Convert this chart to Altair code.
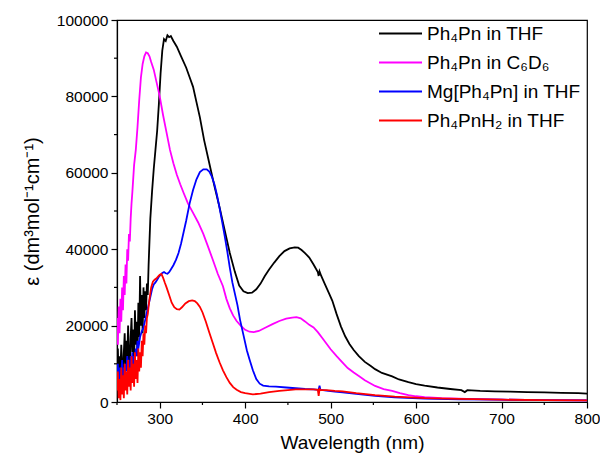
import altair as alt
import pandas as pd

FONT = "Liberation Sans, Arial, Helvetica, sans-serif"

series_names = [
    "Ph\u2084Pn in THF",
    "Ph\u2084Pn in C\u2086D\u2086",
    "Mg[Ph\u2084Pn] in THF",
    "Ph\u2084PnH\u2082 in THF",
]
series_colors = ["#000000", "#ff00ff", "#0000ff", "#ff0000"]

# wavelengths (nm) and epsilon (in units of 1000 dm3 mol-1 cm-1)
black_wl = list(range(250, 288)) + [
    289, 291, 293, 295, 297, 299, 301, 303, 305, 307, 309, 311, 313, 316, 320,
    325, 331, 335, 339, 343, 347, 352, 358, 364, 370, 376, 382, 388, 393, 398,
    403, 408, 413, 418, 423, 428, 434, 440, 446, 452, 458, 462, 466, 470, 475,
    480, 485, 486, 487, 489, 493, 498, 502, 507, 512, 517, 522, 527, 533, 540,
    547, 552, 560, 572, 580, 591, 600, 610, 625, 640, 653, 657, 660, 675, 692,
    710, 730, 750, 770, 790, 800]
black_eps = [
    9, 14, 6, 12, 8, 15, 10, 5, 13, 18, 9, 16, 11, 20, 12, 8, 17, 22, 13, 19,
    10, 24, 15, 21, 12, 26, 17, 33, 20, 28, 18, 30, 22, 29, 24, 31, 28, 36,
    48, 55, 61, 66, 71, 78, 86, 92, 95, 94.5, 96, 95.5, 95.8, 94.5, 93,
    90.5, 87.5, 85, 82.5, 78.5, 74.5, 68.5, 62.5, 56.5, 51, 45, 39, 34, 30.5, 29,
    28.5, 28.6, 29.5, 31, 33, 34.7, 36.5, 38.2, 39.5, 40.2, 40.5, 40.4, 39.8, 39, 37.8,
    36, 34, 33, 34.2, 33, 31, 28.5, 26.5, 23, 19.8, 17.2, 15.2, 13.6, 12, 10.5,
    9.4, 8.6, 7.6, 6.7, 5.9, 5.2, 4.7, 4.3, 3.8, 3.4, 3.1, 2.6, 3.1, 2.9, 2.8,
    2.7, 2.6, 2.5, 2.4, 2.3, 2.2]

magenta_wl = list(range(250, 268)) + [
    268, 270, 272, 274, 276, 278, 280, 282, 284, 286, 288, 290, 293, 296, 300,
    304, 308, 312, 316, 320, 324, 328, 333, 339, 345, 351, 356, 362, 368, 374,
    378, 382, 386, 390, 395, 400, 405, 410, 416, 424, 432, 440, 448, 455, 460,
    465, 470, 475, 480, 485, 490, 495, 500, 507, 514, 520, 527, 533, 540, 552,
    562, 572, 581, 591, 600, 610, 630, 660, 700, 750, 800]
magenta_eps = [
    22, 15, 25, 18, 27, 21, 30, 24, 33, 28, 36, 31, 40, 37, 44, 42, 48, 52,
    55, 62, 66, 72, 79, 85, 88.5, 90.5, 91.5, 91.3, 90.5, 89, 87, 84, 80,
    75, 70.5, 66, 62.5, 59.5, 57, 54.7, 52, 49.5, 47, 44, 41, 37.3, 33.5, 30.3,
    27, 24.5, 22.6, 21.2, 19.9, 18.9, 18.4, 18.3, 18.6, 19.5, 20.4, 21.2, 21.8, 22.1, 22.2,
    21.9, 21.1, 20.2, 19.5, 18.3, 16.8, 15.3, 13.8, 12, 10.3, 8.9, 7.7, 6.8, 5.7, 4.2,
    3.4, 2.9, 2.3, 1.8, 1.5, 1.3, 1.0, 0.8, 0.6, 0.5, 0.4]

blue_wl = list(range(250, 276)) + [
    277, 279, 281, 283, 285, 287, 289, 291, 293, 295, 297, 299, 301, 303, 305,
    307, 309, 311, 313, 316, 319, 322, 325, 328, 331, 335, 339, 343, 347, 351,
    355, 358, 361, 364, 367, 370, 373, 376, 379, 382, 385, 388, 391, 394, 398,
    402, 405, 409, 413, 417, 421, 428, 436, 448, 459, 470, 480, 486, 487, 488,
    495, 505, 514, 530, 552, 575, 610, 650, 700, 750, 800]
blue_eps = [
    7, 10, 5, 9, 4, 8, 11, 6, 9, 7, 10, 8, 12, 9, 11, 8, 12, 10, 13, 9, 12, 11,
    14, 12, 16, 14,
    17, 18.5, 19.5, 21.5, 23.5, 25.5, 27.5, 29.5, 30.8, 31.3, 32, 32.8, 33.3, 33.8, 34,
    33.7, 33.6, 34, 34.7, 35.8, 37.2, 39, 41.5, 44.5, 47.5, 52, 55.5, 58.3, 60.2, 60.9,
    60.9, 60.3, 59, 57, 54.2, 50.8, 47.2, 43.5, 39.5, 35.2, 31.3, 28.3, 25.3, 21.5, 17.5,
    13.5, 11.2, 8.3, 6.0, 4.8, 4.3, 4.1, 4.0, 3.8, 3.6, 3.4, 3.3, 3.2, 4.3, 3.2,
    3.0, 2.7, 2.5, 2.1, 1.6, 1.2, 0.9, 0.7, 0.6, 0.5, 0.4]

red_wl = list(range(250, 286)) + [
    286, 287, 288, 290, 292, 294, 296, 298, 300, 302, 304, 306, 308, 311, 314,
    317, 320, 323, 326, 330, 334, 338, 341, 344, 347, 350, 354, 358, 362, 366,
    370, 374, 378, 382, 386, 390, 395, 400, 409, 418, 428, 440, 450, 459, 470,
    480, 485, 486, 487, 488, 495, 505, 514, 530, 552, 575, 610, 650, 700, 750, 800]
red_eps = [
    3, 8, 1, 6, 0.5, 9, 2, 7, 1, 10, 3, 8, 2, 11, 4, 9, 3, 12, 5, 10, 4, 13, 6,
    11, 5, 14, 8, 13, 9, 16, 12, 18, 15, 20, 18, 22,
    23, 25, 27, 30, 31.5, 32, 32.3, 32.8, 33.3, 33.5, 32.5, 31.2, 30, 28, 26,
    24.8, 24.3, 24.2, 24.8, 25.8, 26.4, 26.6, 26.4, 25.8, 24.9, 23.5, 21, 18.2, 15.5, 12.8,
    10.4, 8.3, 6.5, 5, 3.9, 3.2, 2.6, 2.3, 2.0, 2.2, 2.6, 2.9, 3.1, 3.3, 3.3,
    3.3, 3.2, 1.6, 3.4, 3.2, 3.1, 2.9, 2.8, 2.3, 1.8, 1.4, 1.0, 0.8, 0.6, 0.5, 0.4]

x_ticks = [300, 400, 500, 600, 700, 800]
x_minor = [250, 350, 450, 550, 650, 750]
y_ticks = [0, 20000, 40000, 60000, 80000, 100000]
y_minor = [10000, 30000, 50000, 70000, 90000]

frames = []
for name, wl, eps in [
    (series_names[0], black_wl, black_eps),
    (series_names[1], magenta_wl, magenta_eps),
    (series_names[2], blue_wl, blue_eps),
    (series_names[3], red_wl, red_eps),
]:
    assert len(wl) == len(eps), (name, len(wl), len(eps))
    frames.append(pd.DataFrame({"wl": wl, "eps": [e * 1000 for e in eps], "series": name}))
df = pd.concat(frames, ignore_index=True)

W, H = 470, 382

x_scale = alt.Scale(domain=[250, 800], nice=False, zero=False)
y_scale = alt.Scale(domain=[0, 100000], nice=False)

x_axis = alt.Axis(values=x_ticks, title="Wavelength (nm)", grid=False, tickSize=6,
                  labelPadding=3, titlePadding=7, format="d", labelFlush=False,
                  titleFontSize=19)
y_axis = alt.Axis(values=y_ticks, title="\u03b5 (dm\u00b3mol\u207b\u00b9cm\u207b\u00b9)",
                  grid=False, tickSize=6, labelPadding=3, titlePadding=14, format="d",
                  labelFlush=False, titleFontSize=20)

lines = alt.Chart(df).mark_line(strokeWidth=1.8, clip=True).encode(
    x=alt.X("wl:Q", scale=x_scale, axis=x_axis),
    y=alt.Y("eps:Q", scale=y_scale, axis=y_axis),
    color=alt.Color(
        "series:N",
        scale=alt.Scale(domain=series_names, range=series_colors),
        legend=alt.Legend(
            orient="none", legendX=261, legendY=-1, title=None,
            symbolType="stroke", symbolSize=1849, symbolStrokeWidth=1.8,
            labelFontSize=19, labelFont=FONT, labelColor="black",
            clipHeight=29, rowPadding=0, padding=0, labelOffset=4, labelLimit=400,
        ),
    ),
    detail="series:N",
)

xminor = alt.Chart(pd.DataFrame({"wl": x_minor})).mark_rule(color="black", strokeWidth=1.2).encode(
    x=alt.X("wl:Q", scale=x_scale, axis=x_axis),
    y=alt.value(H),
    y2=alt.value(H + 3),
)
yminor = alt.Chart(pd.DataFrame({"eps": y_minor})).mark_rule(color="black", strokeWidth=1.2).encode(
    y=alt.Y("eps:Q", scale=y_scale, axis=y_axis),
    x=alt.value(0),
    x2=alt.value(-3),
)

chart = alt.layer(lines, xminor, yminor).properties(
    width=W, height=H,
    autosize=alt.AutoSizeParams(type="none"),
    padding={"left": 109, "top": 12, "right": 13, "bottom": 52},
).configure_view(
    stroke="black", strokeWidth=1.2
).configure_axis(
    labelFont=FONT, titleFont=FONT, labelFontSize=15.5,
    labelColor="black", titleColor="black", titleFontWeight="normal",
    domainColor="black", tickColor="black", domainWidth=1.2, tickWidth=1.2,
)

chart.save("out.html", embed_options={"renderer": "svg", "actions": False})
